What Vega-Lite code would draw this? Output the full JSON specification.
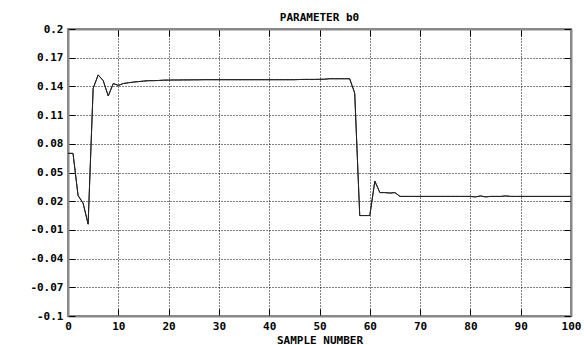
{
  "$schema": "https://vega.github.io/schema/vega-lite/v6.json",
  "autosize": {"type": "none"},
  "width": 503,
  "height": 287,
  "padding": {"left": 68, "top": 29, "right": 13, "bottom": 29},
  "background": "white",
  "title": {
    "text": "PARAMETER b0",
    "font": "DejaVu Sans Mono",
    "fontSize": 11,
    "fontWeight": "bold",
    "color": "black",
    "anchor": "middle",
    "offset": 0
  },
  "config": {
    "view": {"stroke": "#888888", "strokeWidth": 2},
    "axis": {
      "labelFont": "DejaVu Sans Mono",
      "labelFontSize": 11,
      "labelFontWeight": "bold",
      "labelColor": "black",
      "titleFont": "DejaVu Sans Mono",
      "titleFontSize": 11,
      "titleFontWeight": "bold",
      "titleColor": "black",
      "domainColor": "#888888",
      "domainWidth": 2,
      "tickColor": "black",
      "tickWidth": 1,
      "tickSize": -7,
      "gridColor": "black",
      "gridOpacity": 1,
      "gridDash": [1, 2],
      "gridWidth": 1
    }
  },
  "data": {
    "values": [
      {"n": 0, "b0": 0.070}, {"n": 1, "b0": 0.070}, {"n": 2, "b0": 0.026}, {"n": 3, "b0": 0.018},
      {"n": 4, "b0": -0.004}, {"n": 5, "b0": 0.138}, {"n": 6, "b0": 0.152}, {"n": 7, "b0": 0.146},
      {"n": 8, "b0": 0.130}, {"n": 9, "b0": 0.143}, {"n": 10, "b0": 0.141}, {"n": 11, "b0": 0.143},
      {"n": 12, "b0": 0.1438}, {"n": 13, "b0": 0.1445}, {"n": 14, "b0": 0.145}, {"n": 15, "b0": 0.1455},
      {"n": 16, "b0": 0.146}, {"n": 17, "b0": 0.146}, {"n": 18, "b0": 0.1462}, {"n": 19, "b0": 0.1465},
      {"n": 20, "b0": 0.1466}, {"n": 21, "b0": 0.1467}, {"n": 22, "b0": 0.1467}, {"n": 23, "b0": 0.1468},
      {"n": 24, "b0": 0.1468}, {"n": 25, "b0": 0.1469}, {"n": 26, "b0": 0.1469}, {"n": 27, "b0": 0.147},
      {"n": 28, "b0": 0.147}, {"n": 29, "b0": 0.147}, {"n": 30, "b0": 0.147}, {"n": 31, "b0": 0.147},
      {"n": 32, "b0": 0.147}, {"n": 33, "b0": 0.147}, {"n": 34, "b0": 0.147}, {"n": 35, "b0": 0.147},
      {"n": 36, "b0": 0.147}, {"n": 37, "b0": 0.147}, {"n": 38, "b0": 0.147}, {"n": 39, "b0": 0.147},
      {"n": 40, "b0": 0.147}, {"n": 41, "b0": 0.147}, {"n": 42, "b0": 0.147}, {"n": 43, "b0": 0.147},
      {"n": 44, "b0": 0.147}, {"n": 45, "b0": 0.147}, {"n": 46, "b0": 0.1472}, {"n": 47, "b0": 0.1473},
      {"n": 48, "b0": 0.1473}, {"n": 49, "b0": 0.1473}, {"n": 50, "b0": 0.1474}, {"n": 51, "b0": 0.1475},
      {"n": 52, "b0": 0.148}, {"n": 53, "b0": 0.148}, {"n": 54, "b0": 0.148}, {"n": 55, "b0": 0.148},
      {"n": 56, "b0": 0.148}, {"n": 57, "b0": 0.133}, {"n": 58, "b0": 0.005}, {"n": 59, "b0": 0.005},
      {"n": 60, "b0": 0.005}, {"n": 61, "b0": 0.041}, {"n": 62, "b0": 0.029}, {"n": 63, "b0": 0.029},
      {"n": 64, "b0": 0.0285}, {"n": 65, "b0": 0.029}, {"n": 66, "b0": 0.025}, {"n": 67, "b0": 0.025},
      {"n": 68, "b0": 0.025}, {"n": 69, "b0": 0.025}, {"n": 70, "b0": 0.025}, {"n": 71, "b0": 0.025},
      {"n": 72, "b0": 0.025}, {"n": 73, "b0": 0.025}, {"n": 74, "b0": 0.025}, {"n": 75, "b0": 0.025},
      {"n": 76, "b0": 0.025}, {"n": 77, "b0": 0.025}, {"n": 78, "b0": 0.025}, {"n": 79, "b0": 0.025},
      {"n": 80, "b0": 0.025}, {"n": 81, "b0": 0.0245}, {"n": 82, "b0": 0.0255}, {"n": 83, "b0": 0.0245},
      {"n": 84, "b0": 0.025}, {"n": 85, "b0": 0.025}, {"n": 86, "b0": 0.025}, {"n": 87, "b0": 0.0255},
      {"n": 88, "b0": 0.025}, {"n": 89, "b0": 0.025}, {"n": 90, "b0": 0.025}, {"n": 91, "b0": 0.025},
      {"n": 92, "b0": 0.025}, {"n": 93, "b0": 0.025}, {"n": 94, "b0": 0.025}, {"n": 95, "b0": 0.025},
      {"n": 96, "b0": 0.025}, {"n": 97, "b0": 0.025}, {"n": 98, "b0": 0.025}, {"n": 99, "b0": 0.025},
      {"n": 100, "b0": 0.025}
    ]
  },
  "layer": [
    {
      "mark": {"type": "line", "color": "#222222", "strokeWidth": 1},
      "encoding": {
        "x": {
          "field": "n", "type": "quantitative",
          "scale": {"domain": [0, 100], "nice": false, "zero": false},
          "axis": {
            "orient": "bottom", "title": "SAMPLE NUMBER",
            "values": [0, 10, 20, 30, 40, 50, 60, 70, 80, 90, 100],
            "labelPadding": 11, "titlePadding": 3, "grid": true,
            "labelFlush": false, "labelOverlap": false
          }
        },
        "y": {
          "field": "b0", "type": "quantitative",
          "scale": {"domain": [-0.1, 0.2], "nice": false, "zero": false},
          "axis": {
            "orient": "left", "title": null,
            "values": [-0.1, -0.07, -0.04, -0.01, 0.02, 0.05, 0.08, 0.11, 0.14, 0.17, 0.2],
            "labelExpr": "datum.value < 0 ? '-' + format(-datum.value, '.2~f') : format(datum.value, '.2~f')",
            "labelPadding": 12, "grid": true,
            "labelFlush": false, "labelOverlap": false
          }
        }
      }
    },
    {
      "mark": {"type": "line", "color": "#222222", "strokeWidth": 1},
      "encoding": {
        "x": {
          "field": "n", "type": "quantitative",
          "axis": {
            "orient": "top", "title": null, "labels": false, "grid": false,
            "values": [0, 10, 20, 30, 40, 50, 60, 70, 80, 90, 100]
          }
        },
        "y": {
          "field": "b0", "type": "quantitative",
          "axis": {
            "orient": "right", "title": null, "labels": false, "grid": false,
            "values": [-0.1, -0.07, -0.04, -0.01, 0.02, 0.05, 0.08, 0.11, 0.14, 0.17, 0.2]
          }
        }
      }
    }
  ],
  "resolve": {"axis": {"x": "independent", "y": "independent"}}
}
